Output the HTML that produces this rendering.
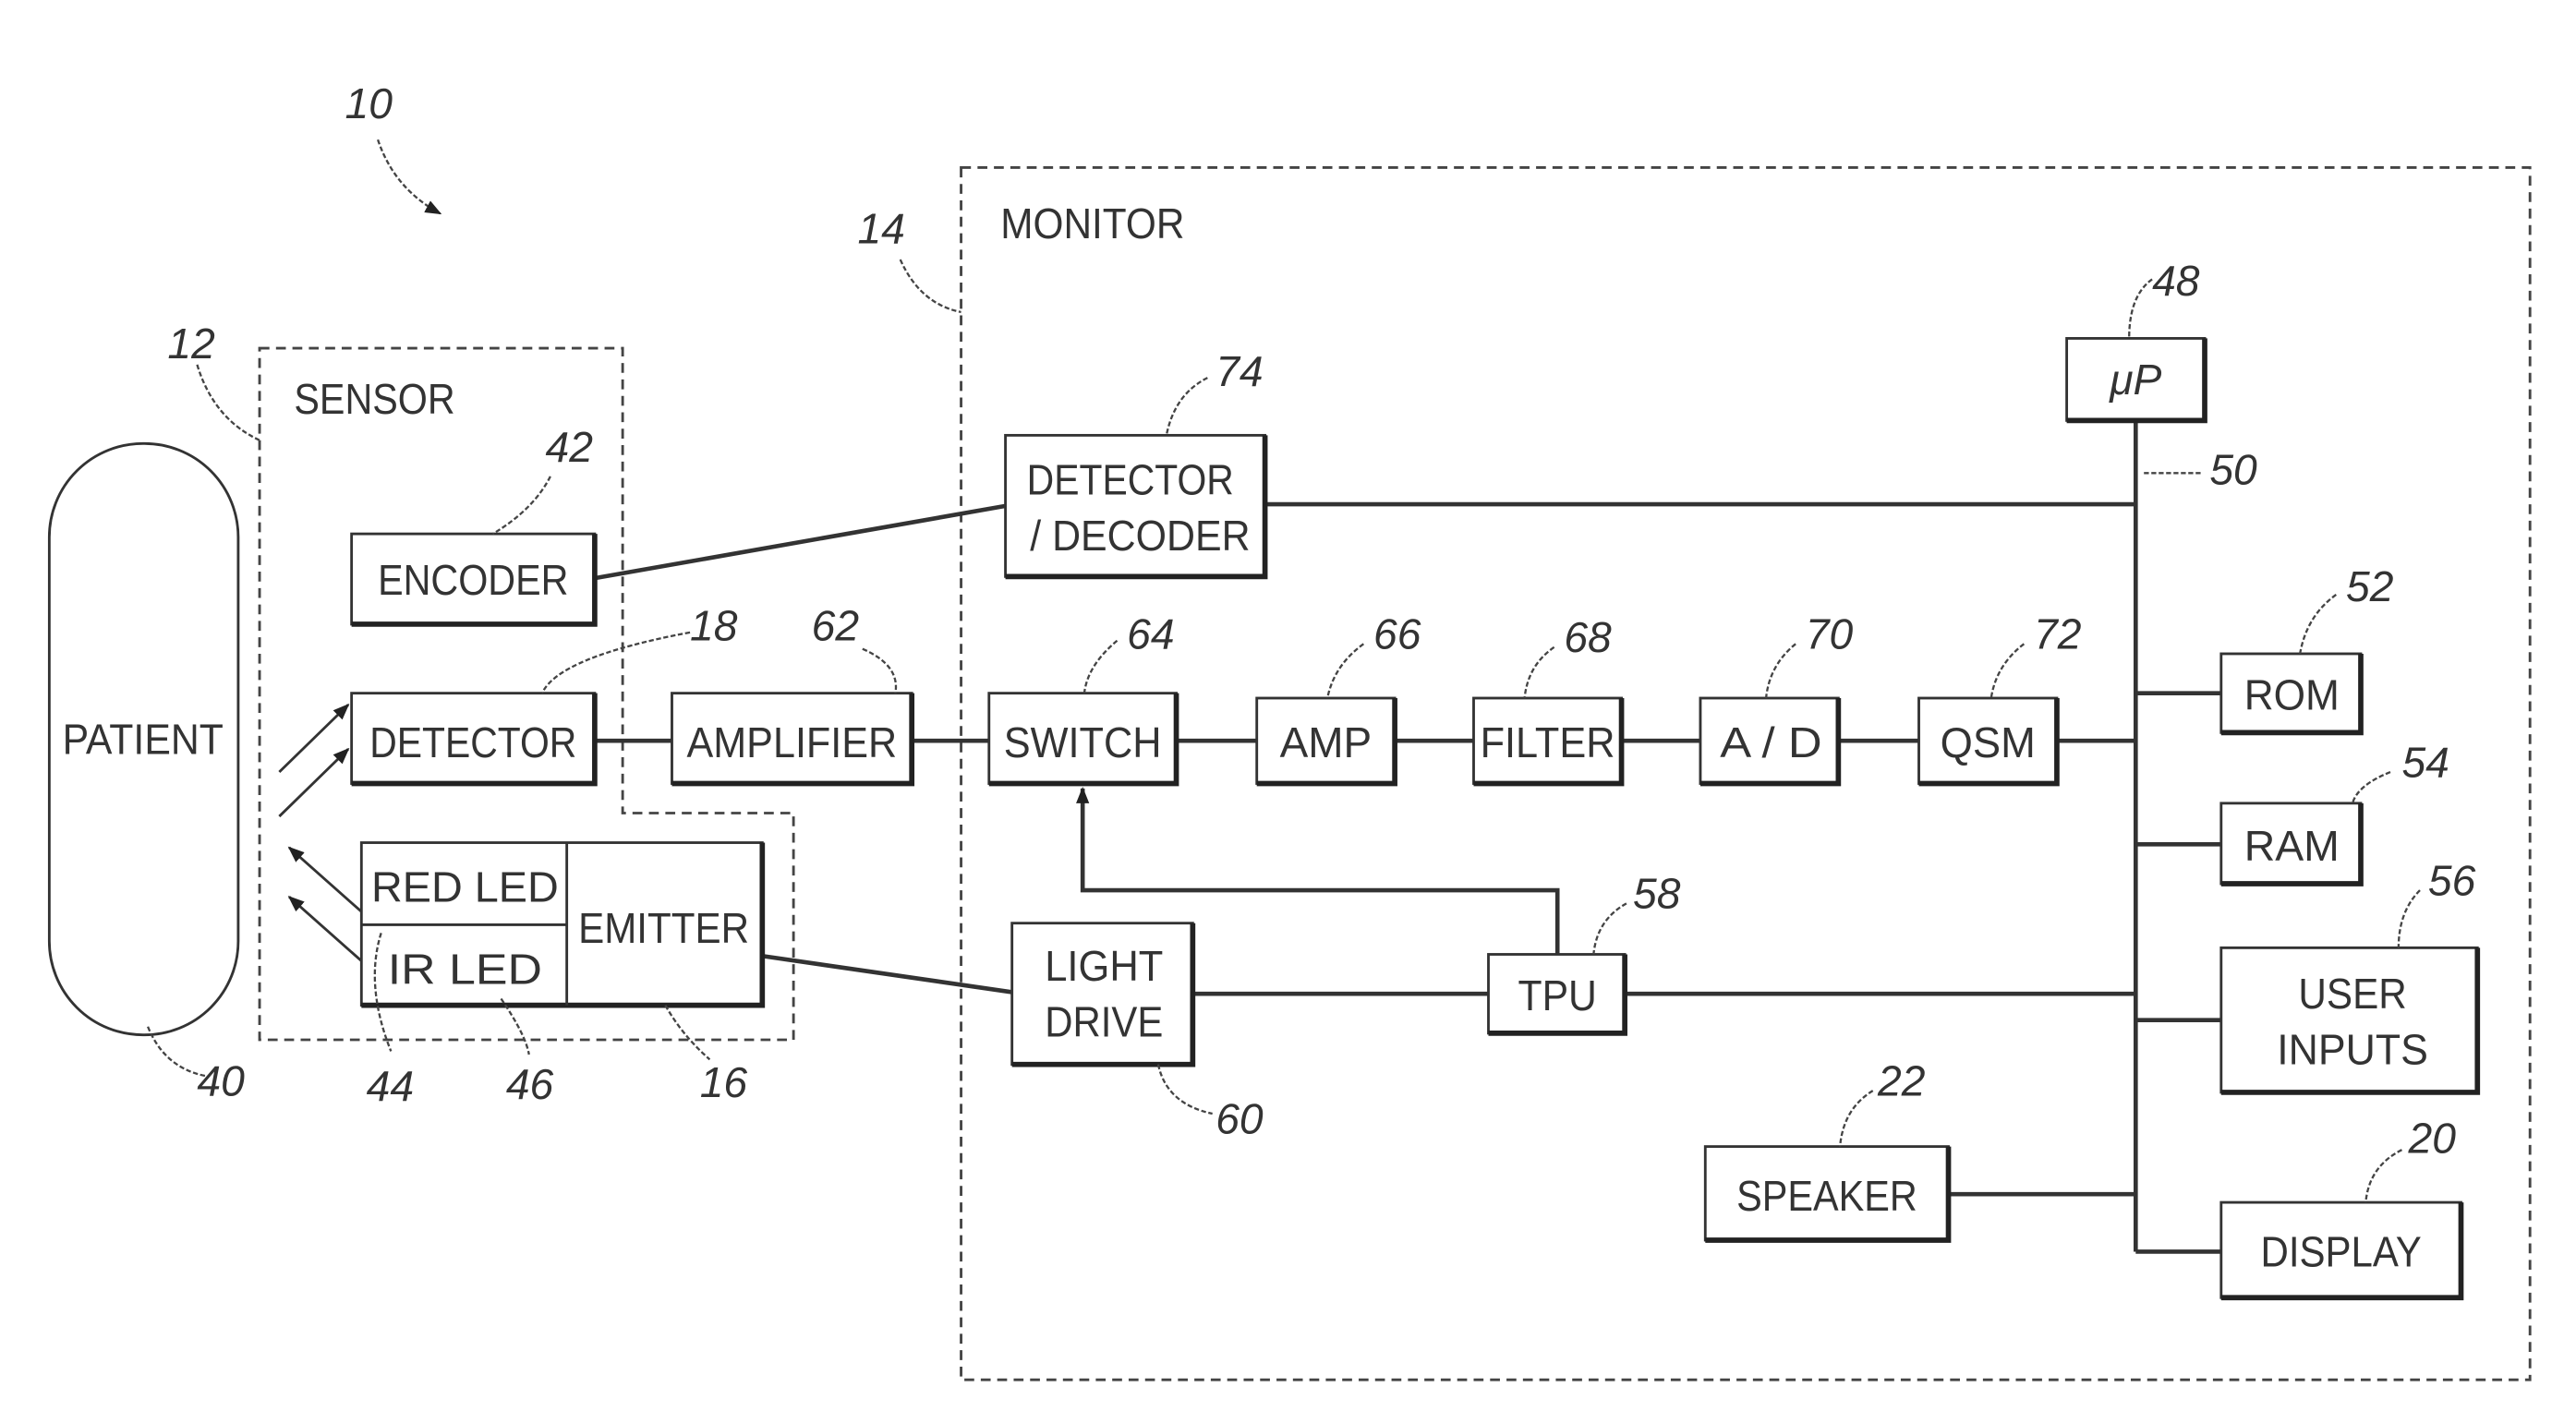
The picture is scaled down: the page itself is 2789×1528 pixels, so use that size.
<!DOCTYPE html>
<html><head><meta charset="utf-8"><style>
html,body{margin:0;padding:0;background:#fff}
svg{display:block}
text{font-family:"Liberation Sans",sans-serif;fill:#333}
.b{fill:#fff;stroke:#333;stroke-width:1.6}
.s{fill:none;stroke:#222;stroke-width:3.2}
.l{fill:none;stroke:#333;stroke-width:2.6}
.d{fill:none;stroke:#444;stroke-width:1.6;stroke-dasharray:6 4}
.ld{fill:none;stroke:#444;stroke-width:1.3;stroke-dasharray:3 1.5}
.t{font-size:26px}
.n{font-size:26px;font-style:italic}
</style></head><body>
<svg width="2789" height="1528" viewBox="0 0 1568 859" preserveAspectRatio="none" xmlns="http://www.w3.org/2000/svg">
<defs><marker id="ah" markerWidth="10" markerHeight="10" refX="9" refY="5" orient="auto" markerUnits="userSpaceOnUse"><path d="M0,1 L10,5 L0,9 z" fill="#222"/></marker></defs>

<rect x="585" y="102" width="955" height="738" class="d"/>
<path d="M158,212 H379 V495 H483 V633 H158 Z" class="d"/>

<rect x="30" y="270" width="115" height="360" rx="57" ry="57" class="b"/>
<text x="87" y="459" class="t" text-anchor="middle" textLength="98" lengthAdjust="spacingAndGlyphs">PATIENT</text>

<g class="l">
<line x1="362" y1="352" x2="612" y2="308"/>
<line x1="770" y1="307" x2="1300" y2="307"/>
<line x1="362" y1="451" x2="409" y2="451"/>
<line x1="555" y1="451" x2="602" y2="451"/>
<line x1="716" y1="451" x2="765" y2="451"/>
<line x1="849" y1="451" x2="897" y2="451"/>
<line x1="987" y1="451" x2="1035" y2="451"/>
<line x1="1119" y1="451" x2="1168" y2="451"/>
<line x1="1252" y1="451" x2="1300" y2="451"/>
<line x1="1300" y1="256" x2="1300" y2="762"/>
<line x1="1300" y1="422" x2="1352" y2="422"/>
<line x1="1300" y1="514" x2="1352" y2="514"/>
<line x1="1300" y1="621" x2="1352" y2="621"/>
<line x1="1300" y1="762" x2="1352" y2="762"/>
<line x1="1186" y1="727" x2="1300" y2="727"/>
<line x1="726" y1="605" x2="906" y2="605"/>
<line x1="989" y1="605" x2="1300" y2="605"/>
<line x1="464" y1="582" x2="616" y2="604"/>
<polyline points="948,581 948,542 659,542 659,480" marker-end="url(#ah)"/>
</g>
<g stroke="#333" stroke-width="1.6" fill="none">
<line x1="170" y1="470" x2="212" y2="429" marker-end="url(#ah)"/>
<line x1="170" y1="497" x2="212" y2="456" marker-end="url(#ah)"/>
<line x1="220" y1="555" x2="176" y2="516" marker-end="url(#ah)"/>
<line x1="220" y1="585" x2="176" y2="546" marker-end="url(#ah)"/>
</g>

<g>
<rect x="214" y="325" width="148" height="55" class="b"/><path d="M362,325 V380 H214" class="s"/>
<text x="288" y="362" class="t" text-anchor="middle" textLength="116" lengthAdjust="spacingAndGlyphs">ENCODER</text>

<rect x="214" y="422" width="148" height="55" class="b"/><path d="M362,422 V477 H214" class="s"/>
<text x="288" y="461" class="t" text-anchor="middle" textLength="126" lengthAdjust="spacingAndGlyphs">DETECTOR</text>

<rect x="220" y="513" width="244" height="99" class="b"/><path d="M464,513 V612 H220" class="s"/>
<line x1="345" y1="513" x2="345" y2="612" stroke="#333" stroke-width="1.6"/>
<line x1="220" y1="563" x2="345" y2="563" stroke="#333" stroke-width="1.6"/>
<text x="226" y="549" class="t" textLength="114" lengthAdjust="spacingAndGlyphs">RED  LED</text>
<text x="236" y="599" class="t" textLength="94" lengthAdjust="spacingAndGlyphs">IR  LED</text>
<text x="404" y="574" class="t" text-anchor="middle" textLength="104" lengthAdjust="spacingAndGlyphs">EMITTER</text>

<rect x="409" y="422" width="146" height="55" class="b"/><path d="M555,422 V477 H409" class="s"/>
<text x="482" y="461" class="t" text-anchor="middle" textLength="128" lengthAdjust="spacingAndGlyphs">AMPLIFIER</text>

<rect x="612" y="265" width="158" height="86" class="b"/><path d="M770,265 V351 H612" class="s"/>
<text x="688" y="301" class="t" text-anchor="middle" textLength="126" lengthAdjust="spacingAndGlyphs">DETECTOR</text>
<text x="694" y="335" class="t" text-anchor="middle" textLength="134" lengthAdjust="spacingAndGlyphs">/ DECODER</text>

<rect x="602" y="422" width="114" height="55" class="b"/><path d="M716,422 V477 H602" class="s"/>
<text x="659" y="461" class="t" text-anchor="middle" textLength="96" lengthAdjust="spacingAndGlyphs">SWITCH</text>

<rect x="765" y="425" width="84" height="52" class="b"/><path d="M849,425 V477 H765" class="s"/>
<text x="807" y="461" class="t" text-anchor="middle" textLength="56" lengthAdjust="spacingAndGlyphs">AMP</text>

<rect x="897" y="425" width="90" height="52" class="b"/><path d="M987,425 V477 H897" class="s"/>
<text x="942" y="461" class="t" text-anchor="middle" textLength="82" lengthAdjust="spacingAndGlyphs">FILTER</text>

<rect x="1035" y="425" width="84" height="52" class="b"/><path d="M1119,425 V477 H1035" class="s"/>
<text x="1078" y="461" class="t" text-anchor="middle" textLength="62" lengthAdjust="spacingAndGlyphs">A / D</text>

<rect x="1168" y="425" width="84" height="52" class="b"/><path d="M1252,425 V477 H1168" class="s"/>
<text x="1210" y="461" class="t" text-anchor="middle" textLength="58" lengthAdjust="spacingAndGlyphs">QSM</text>

<rect x="1258" y="206" width="84" height="50" class="b"/><path d="M1342,206 V256 H1258" class="s"/>
<text x="1300" y="240" class="t" text-anchor="middle" font-style="italic">μP</text>

<rect x="1352" y="398" width="85" height="48" class="b"/><path d="M1437,398 V446 H1352" class="s"/>
<text x="1395" y="432" class="t" text-anchor="middle" textLength="58" lengthAdjust="spacingAndGlyphs">ROM</text>

<rect x="1352" y="489" width="85" height="49" class="b"/><path d="M1437,489 V538 H1352" class="s"/>
<text x="1395" y="524" class="t" text-anchor="middle" textLength="58" lengthAdjust="spacingAndGlyphs">RAM</text>

<rect x="1352" y="577" width="156" height="88" class="b"/><path d="M1508,577 V665 H1352" class="s"/>
<text x="1432" y="614" class="t" text-anchor="middle" textLength="66" lengthAdjust="spacingAndGlyphs">USER</text>
<text x="1432" y="648" class="t" text-anchor="middle" textLength="92" lengthAdjust="spacingAndGlyphs">INPUTS</text>

<rect x="1352" y="732" width="146" height="58" class="b"/><path d="M1498,732 V790 H1352" class="s"/>
<text x="1425" y="771" class="t" text-anchor="middle" textLength="98" lengthAdjust="spacingAndGlyphs">DISPLAY</text>

<rect x="1038" y="698" width="148" height="57" class="b"/><path d="M1186,698 V755 H1038" class="s"/>
<text x="1112" y="737" class="t" text-anchor="middle" textLength="110" lengthAdjust="spacingAndGlyphs">SPEAKER</text>

<rect x="616" y="562" width="110" height="86" class="b"/><path d="M726,562 V648 H616" class="s"/>
<text x="672" y="597" class="t" text-anchor="middle" textLength="72" lengthAdjust="spacingAndGlyphs">LIGHT</text>
<text x="672" y="631" class="t" text-anchor="middle" textLength="72" lengthAdjust="spacingAndGlyphs">DRIVE</text>

<rect x="906" y="581" width="83" height="48" class="b"/><path d="M989,581 V629 H906" class="s"/>
<text x="948" y="615" class="t" text-anchor="middle" textLength="48" lengthAdjust="spacingAndGlyphs">TPU</text>
</g>

<text x="609" y="145" class="t" textLength="112" lengthAdjust="spacingAndGlyphs">MONITOR</text>
<text x="179" y="252" class="t" textLength="98" lengthAdjust="spacingAndGlyphs">SENSOR</text>

<g class="ld">
<path d="M230,85 Q240,115 268,130" marker-end="url(#ah)"/>
<path d="M548,158 Q560,185 585,190"/>
<path d="M120,222 Q130,255 158,268"/>
<path d="M335,290 Q325,310 300,325"/>
<path d="M420,385 Q340,400 330,422"/>
<path d="M525,395 Q548,405 545,422"/>
<path d="M680,390 Q662,405 660,422"/>
<path d="M830,392 Q812,405 808,425"/>
<path d="M946,394 Q930,405 928,425"/>
<path d="M1093,392 Q1077,405 1075,425"/>
<path d="M1232,392 Q1215,405 1212,425"/>
<path d="M735,230 Q715,240 710,265"/>
<path d="M1310,170 Q1296,180 1296,206"/>
<path d="M1305,288 H1340"/>
<path d="M1422,362 Q1404,375 1400,398"/>
<path d="M1455,470 Q1435,478 1432,489"/>
<path d="M1473,542 Q1460,555 1460,577"/>
<path d="M1462,700 Q1442,710 1440,732"/>
<path d="M1140,664 Q1122,675 1120,698"/>
<path d="M990,550 Q972,560 970,581"/>
<path d="M705,648 Q710,672 738,678"/>
<path d="M90,625 Q100,650 125,655"/>
<path d="M232,568 Q222,600 238,640"/>
<path d="M305,608 Q320,630 322,642"/>
<path d="M405,612 Q415,630 432,645"/>
</g>
<g class="n">
<text x="210" y="72">10</text>
<text x="522" y="148">14</text>
<text x="102" y="218">12</text>
<text x="332" y="281">42</text>
<text x="420" y="390">18</text>
<text x="494" y="390">62</text>
<text x="686" y="395">64</text>
<text x="836" y="395">66</text>
<text x="952" y="397">68</text>
<text x="1099" y="395">70</text>
<text x="1238" y="395">72</text>
<text x="740" y="235">74</text>
<text x="1310" y="180">48</text>
<text x="1345" y="295">50</text>
<text x="1428" y="366">52</text>
<text x="1462" y="473">54</text>
<text x="1478" y="545">56</text>
<text x="1466" y="702">20</text>
<text x="1143" y="667">22</text>
<text x="994" y="553">58</text>
<text x="740" y="690">60</text>
<text x="120" y="667">40</text>
<text x="223" y="670">44</text>
<text x="308" y="669">46</text>
<text x="426" y="668">16</text>
</g>
</svg>
</body></html>
